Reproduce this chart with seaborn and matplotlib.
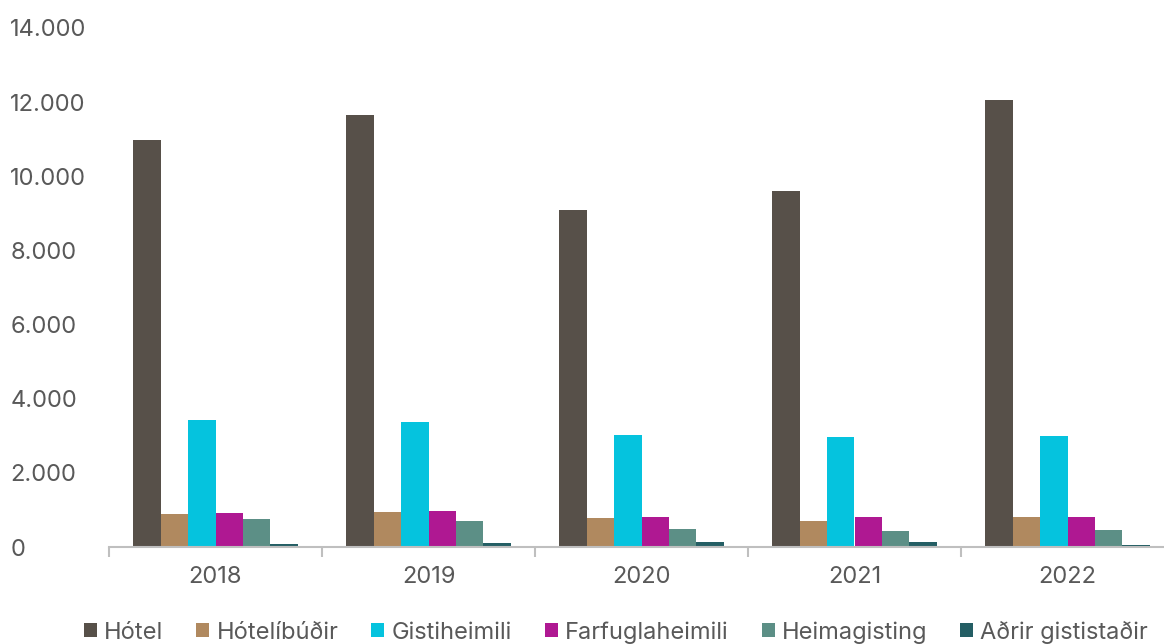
import matplotlib
matplotlib.use("Agg")
import matplotlib.pyplot as plt
import seaborn as sns
import pandas as pd
from matplotlib.ticker import FuncFormatter, FixedLocator
from matplotlib.patches import Patch

years = ["2018", "2019", "2020", "2021", "2022"]
categories = ["Hótel", "Hótelíbúðir", "Gistiheimili", "Farfuglaheimili", "Heimagisting", "Aðrir gististaðir"]
hotel = [10980, 11650, 9090, 9600, 12060]
hotelibudir = [880, 935, 785, 705, 810]
gistiheimili = [3420, 3365, 3020, 2965, 2995]
farfuglaheimili = [930, 965, 810, 810, 810]
heimagisting = [750, 690, 480, 435, 460]
adrir = [85, 110, 140, 140, 55]
colors = ["#575049", "#b0895f", "#05c3de", "#af1892", "#5c8f86", "#245e64"]

series = [hotel, hotelibudir, gistiheimili, farfuglaheimili, heimagisting, adrir]
rows = []
for cat, vals in zip(categories, series):
    for y, v in zip(years, vals):
        rows.append({"year": y, "type": cat, "value": v})
df = pd.DataFrame(rows)

sns.set_style("white")
plt.rcParams["font.family"] = ["Inter", "DejaVu Sans"]

fig = plt.figure(figsize=(11.64, 6.44), dpi=100)
ax = fig.add_axes([109/1164, 1 - 547/644, (1174 - 109)/1164, (547 - 28)/644])

sns.barplot(data=df, x="year", y="value", hue="type", hue_order=categories,
            order=years, palette=colors, saturation=1, width=0.77,
            linewidth=0, ax=ax, legend=False)

ax.set_xlim(-0.5, 4.5)
ax.set_ylim(0, 14000)
ax.set_yticks(range(0, 14001, 2000))
ax.yaxis.set_major_formatter(FuncFormatter(lambda v, p: f"{int(v):,}".replace(",", ".")))
ax.set_xlabel("")
ax.set_ylabel("")

for s in ["top", "right", "left"]:
    ax.spines[s].set_visible(False)
ax.spines["bottom"].set_color("#bfbfbf")
ax.spines["bottom"].set_linewidth(1.5)

txt = "#595959"
ax.tick_params(axis="y", length=0, labelsize=17, labelcolor=txt, pad=71)
for lbl in ax.get_yticklabels():
    lbl.set_horizontalalignment("left")
ax.tick_params(axis="x", which="major", bottom=True, length=0, labelsize=17, labelcolor=txt, pad=14)
ax.xaxis.set_minor_locator(FixedLocator([-0.5, 0.5, 1.5, 2.5, 3.5, 4.5]))
ax.tick_params(axis="x", which="minor", bottom=True, length=7, width=1.5, color="#bfbfbf", direction="out")

handles = [Patch(facecolor=c, edgecolor="none", label=l) for c, l in zip(colors, categories)]
fig.legend(handles=handles, loc="center", bbox_to_anchor=(616/1164, 1 - 632/644),
           ncol=6, frameon=False, fontsize=17, labelcolor=txt,
           handlelength=0.55, handleheight=0.55, handletextpad=0.3, columnspacing=1.4,
           borderaxespad=0, borderpad=0)

fig.savefig("out.png", dpi=100)
